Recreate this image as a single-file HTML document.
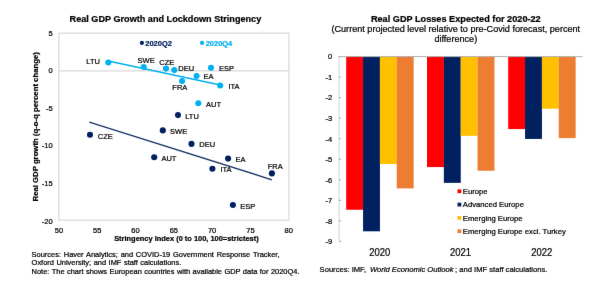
<!DOCTYPE html>
<html><head><meta charset="utf-8"><style>
html,body{margin:0;padding:0;background:#fff;width:600px;height:294px;overflow:hidden}
#w{width:600px;height:294px}
svg{display:block;font-family:"Liberation Sans", sans-serif}
</style></head><body>
<div id="w">
<svg width="600" height="294" viewBox="0 0 600 294">
<defs><filter id="bl" x="0" y="0" width="1" height="1" color-interpolation-filters="sRGB"><feConvolveMatrix order="3" kernelMatrix="0.00276 0.04704 0.00276 0.04704 0.80077 0.04704 0.00276 0.04704 0.00276" edgeMode="duplicate"/></filter></defs>
<g filter="url(#bl)" stroke-width="0.22">
<rect width="600" height="294" fill="#fff"/>
<text transform="matrix(1.0000 0 0 1 0.000 0)" x="165.40" y="21.56" font-size="9.120" font-weight="bold" fill="#000" stroke="#000" text-anchor="middle">Real GDP Growth and Lockdown Stringency</text>
<rect x="58.8" y="33.2" width="230.1" height="187.0" fill="none" stroke="#dedede" stroke-width="1.4"/>
<line x1="58.8" y1="70.8" x2="288.9" y2="70.8" stroke="#d9d9d9" stroke-width="1.3"/>
<text transform="matrix(1.0000 0 0 1 0.000 0)" x="52.60" y="35.69" font-size="7.500" font-weight="normal" fill="#000" stroke="#000" text-anchor="end">5</text>
<text transform="matrix(1.0000 0 0 1 0.000 0)" x="52.60" y="73.27" font-size="7.500" font-weight="normal" fill="#000" stroke="#000" text-anchor="end">0</text>
<text transform="matrix(1.0000 0 0 1 0.000 0)" x="52.60" y="110.84" font-size="7.500" font-weight="normal" fill="#000" stroke="#000" text-anchor="end">-5</text>
<text transform="matrix(1.0000 0 0 1 0.000 0)" x="52.60" y="148.43" font-size="7.500" font-weight="normal" fill="#000" stroke="#000" text-anchor="end">-10</text>
<text transform="matrix(1.0000 0 0 1 0.000 0)" x="52.60" y="186.00" font-size="7.500" font-weight="normal" fill="#000" stroke="#000" text-anchor="end">-15</text>
<text transform="matrix(1.0000 0 0 1 0.000 0)" x="52.60" y="223.58" font-size="7.500" font-weight="normal" fill="#000" stroke="#000" text-anchor="end">-20</text>
<text transform="matrix(1.0000 0 0 1 0.000 0)" x="58.90" y="232.59" font-size="7.500" font-weight="normal" fill="#000" stroke="#000" text-anchor="middle">50</text>
<text transform="matrix(1.0000 0 0 1 0.000 0)" x="97.20" y="232.59" font-size="7.500" font-weight="normal" fill="#000" stroke="#000" text-anchor="middle">55</text>
<text transform="matrix(1.0000 0 0 1 0.000 0)" x="135.50" y="232.59" font-size="7.500" font-weight="normal" fill="#000" stroke="#000" text-anchor="middle">60</text>
<text transform="matrix(1.0000 0 0 1 0.000 0)" x="173.80" y="232.59" font-size="7.500" font-weight="normal" fill="#000" stroke="#000" text-anchor="middle">65</text>
<text transform="matrix(1.0000 0 0 1 0.000 0)" x="212.10" y="232.59" font-size="7.500" font-weight="normal" fill="#000" stroke="#000" text-anchor="middle">70</text>
<text transform="matrix(1.0000 0 0 1 0.000 0)" x="250.40" y="232.59" font-size="7.500" font-weight="normal" fill="#000" stroke="#000" text-anchor="middle">75</text>
<text transform="matrix(1.0000 0 0 1 0.000 0)" x="288.70" y="232.59" font-size="7.500" font-weight="normal" fill="#000" stroke="#000" text-anchor="middle">80</text>
<text transform="translate(38.3,126.8) rotate(-90)" x="0" y="0" font-size="7.75" font-weight="bold" stroke="#000" text-anchor="middle">Real GDP growth (q-o-q percent change)</text>
<text transform="matrix(1.0000 0 0 1 0.000 0)" x="186.40" y="240.96" font-size="7.440" font-weight="bold" fill="#000" stroke="#000" text-anchor="middle">Stringency Index (0 to 100, 100=strictest)</text>
<circle cx="141.9" cy="42.9" r="2.1" fill="#002060"/>
<text transform="matrix(1.0000 0 0 1 0.000 0)" x="145.30" y="45.68" font-size="7.480" font-weight="bold" fill="#002060" stroke="#002060" text-anchor="start">2020Q2</text>
<circle cx="202.1" cy="42.9" r="2.1" fill="#00b0f0"/>
<text transform="matrix(1.0000 0 0 1 0.000 0)" x="205.70" y="45.68" font-size="7.480" font-weight="bold" fill="#00b0f0" stroke="#00b0f0" text-anchor="start">2020Q4</text>
<line x1="108.3" y1="60.9" x2="220.2" y2="84.9" stroke="#00b0f0" stroke-width="1.5"/>
<line x1="89.3" y1="122.1" x2="271.9" y2="179.8" stroke="#1c3668" stroke-width="1.4"/>
<circle cx="108.3" cy="62.5" r="3.05" fill="#00b0f0"/>
<text transform="matrix(1.0000 0 0 1 0.000 0)" x="86.30" y="64.28" font-size="7.500" font-weight="normal" fill="#000" stroke="#000" text-anchor="start">LTU</text>
<circle cx="143.7" cy="67" r="3.05" fill="#00b0f0"/>
<text transform="matrix(1.0000 0 0 1 0.000 0)" x="137.60" y="63.29" font-size="7.500" font-weight="normal" fill="#000" stroke="#000" text-anchor="start">SWE</text>
<circle cx="166" cy="68.6" r="3.05" fill="#00b0f0"/>
<text transform="matrix(1.0000 0 0 1 0.000 0)" x="159.30" y="65.08" font-size="7.500" font-weight="normal" fill="#000" stroke="#000" text-anchor="start">CZE</text>
<circle cx="174.3" cy="70.1" r="3.05" fill="#00b0f0"/>
<text transform="matrix(1.0000 0 0 1 0.000 0)" x="178.30" y="71.09" font-size="7.500" font-weight="normal" fill="#000" stroke="#000" text-anchor="start">DEU</text>
<circle cx="211" cy="67.7" r="3.05" fill="#00b0f0"/>
<text transform="matrix(1.0000 0 0 1 0.000 0)" x="218.90" y="71.09" font-size="7.500" font-weight="normal" fill="#000" stroke="#000" text-anchor="start">ESP</text>
<circle cx="196.6" cy="76.0" r="3.05" fill="#00b0f0"/>
<text transform="matrix(1.0000 0 0 1 0.000 0)" x="203.50" y="79.49" font-size="7.500" font-weight="normal" fill="#000" stroke="#000" text-anchor="start">EA</text>
<circle cx="182.1" cy="81.0" r="3.05" fill="#00b0f0"/>
<text transform="matrix(1.0000 0 0 1 0.000 0)" x="172.30" y="90.19" font-size="7.500" font-weight="normal" fill="#000" stroke="#000" text-anchor="start">FRA</text>
<circle cx="220.2" cy="85.5" r="3.05" fill="#00b0f0"/>
<text transform="matrix(1.0000 0 0 1 0.000 0)" x="228.40" y="88.99" font-size="7.500" font-weight="normal" fill="#000" stroke="#000" text-anchor="start">ITA</text>
<circle cx="198.3" cy="103.2" r="3.05" fill="#00b0f0"/>
<text transform="matrix(1.0000 0 0 1 0.000 0)" x="206.00" y="106.99" font-size="7.500" font-weight="normal" fill="#000" stroke="#000" text-anchor="start">AUT</text>
<circle cx="178.0" cy="115.1" r="3.05" fill="#002060"/>
<text transform="matrix(1.0000 0 0 1 0.000 0)" x="185.25" y="118.84" font-size="7.500" font-weight="normal" fill="#000" stroke="#000" text-anchor="start">LTU</text>
<circle cx="162.8" cy="130.4" r="3.05" fill="#002060"/>
<text transform="matrix(1.0000 0 0 1 0.000 0)" x="170.05" y="133.94" font-size="7.500" font-weight="normal" fill="#000" stroke="#000" text-anchor="start">SWE</text>
<circle cx="90" cy="134.8" r="3.05" fill="#002060"/>
<text transform="matrix(1.0000 0 0 1 0.000 0)" x="97.75" y="138.63" font-size="7.500" font-weight="normal" fill="#000" stroke="#000" text-anchor="start">CZE</text>
<circle cx="191.5" cy="143.9" r="3.05" fill="#002060"/>
<text transform="matrix(1.0000 0 0 1 0.000 0)" x="199.25" y="146.83" font-size="7.500" font-weight="normal" fill="#000" stroke="#000" text-anchor="start">DEU</text>
<circle cx="154.2" cy="157.2" r="3.05" fill="#002060"/>
<text transform="matrix(1.0000 0 0 1 0.000 0)" x="161.45" y="160.83" font-size="7.500" font-weight="normal" fill="#000" stroke="#000" text-anchor="start">AUT</text>
<circle cx="228.1" cy="158.6" r="3.05" fill="#002060"/>
<text transform="matrix(1.0000 0 0 1 0.000 0)" x="235.45" y="162.44" font-size="7.500" font-weight="normal" fill="#000" stroke="#000" text-anchor="start">EA</text>
<circle cx="212.4" cy="168.8" r="3.05" fill="#002060"/>
<text transform="matrix(1.0000 0 0 1 0.000 0)" x="220.45" y="172.44" font-size="7.500" font-weight="normal" fill="#000" stroke="#000" text-anchor="start">ITA</text>
<circle cx="271.9" cy="173.4" r="3.05" fill="#002060"/>
<text transform="matrix(1.0000 0 0 1 0.000 0)" x="267.65" y="169.23" font-size="7.500" font-weight="normal" fill="#000" stroke="#000" text-anchor="start">FRA</text>
<circle cx="232.9" cy="205" r="3.05" fill="#002060"/>
<text transform="matrix(1.0000 0 0 1 0.000 0)" x="240.25" y="208.83" font-size="7.500" font-weight="normal" fill="#000" stroke="#000" text-anchor="start">ESP</text>
<text word-spacing="0.75" transform="matrix(1.0000 0 0 1 0.000 0)" x="31.60" y="256.77" font-size="7.450" font-weight="normal" fill="#000" stroke="#000" text-anchor="start">Sources: Haver Analytics; and COVID-19 Government Response Tracker,</text>
<text word-spacing="0.45" transform="matrix(1.0000 0 0 1 0.000 0)" x="31.60" y="265.17" font-size="7.450" font-weight="normal" fill="#000" stroke="#000" text-anchor="start">Oxford University; and IMF staff calculations.</text>
<text word-spacing="0.4" transform="matrix(1.0000 0 0 1 0.000 0)" x="31.60" y="273.77" font-size="7.450" font-weight="normal" fill="#000" stroke="#000" text-anchor="start">Note: The chart shows European countries with available GDP data for 2020Q4.</text>
<text transform="matrix(1.0000 0 0 1 0.000 0)" x="455.80" y="21.73" font-size="9.170" font-weight="bold" fill="#000" stroke="#000" text-anchor="middle">Real GDP Losses Expected for 2020-22</text>
<text transform="matrix(1.0000 0 0 1 0.000 0)" x="455.80" y="32.26" font-size="9.110" font-weight="normal" fill="#000" stroke="#000" text-anchor="middle">(Current projected level relative to pre-Covid forecast, percent</text>
<text transform="matrix(1.0000 0 0 1 0.000 0)" x="455.80" y="42.06" font-size="9.110" font-weight="normal" fill="#000" stroke="#000" text-anchor="middle">difference)</text>
<rect x="346.20" y="56.6" width="16.90" height="153.15" fill="#ff0000"/>
<rect x="363.05" y="56.6" width="16.90" height="174.71" fill="#002060"/>
<rect x="379.90" y="56.6" width="16.90" height="107.37" fill="#ffc000"/>
<rect x="396.75" y="56.6" width="16.90" height="131.80" fill="#ed7d31"/>
<rect x="427.00" y="56.6" width="16.90" height="110.45" fill="#ff0000"/>
<rect x="443.85" y="56.6" width="16.90" height="126.26" fill="#002060"/>
<rect x="460.70" y="56.6" width="16.90" height="79.25" fill="#ffc000"/>
<rect x="477.55" y="56.6" width="16.90" height="114.15" fill="#ed7d31"/>
<rect x="508.20" y="56.6" width="16.90" height="72.47" fill="#ff0000"/>
<rect x="525.05" y="56.6" width="16.90" height="82.33" fill="#002060"/>
<rect x="541.90" y="56.6" width="16.90" height="52.15" fill="#ffc000"/>
<rect x="558.75" y="56.6" width="16.90" height="81.50" fill="#ed7d31"/>
<line x1="339.0" y1="56.6" x2="339.0" y2="241.4" stroke="#d9d9d9" stroke-width="1.2"/>
<line x1="339.0" y1="56.60" x2="341.3" y2="56.60" stroke="#a0a0a0" stroke-width="0.9"/>
<text transform="matrix(1.0000 0 0 1 0.000 0)" x="332.20" y="59.39" font-size="7.500" font-weight="normal" fill="#000" stroke="#000" text-anchor="end">0</text>
<line x1="339.0" y1="77.13" x2="341.3" y2="77.13" stroke="#a0a0a0" stroke-width="0.9"/>
<text transform="matrix(1.0000 0 0 1 0.000 0)" x="332.20" y="79.91" font-size="7.500" font-weight="normal" fill="#000" stroke="#000" text-anchor="end">-1</text>
<line x1="339.0" y1="97.66" x2="341.3" y2="97.66" stroke="#a0a0a0" stroke-width="0.9"/>
<text transform="matrix(1.0000 0 0 1 0.000 0)" x="332.20" y="100.44" font-size="7.500" font-weight="normal" fill="#000" stroke="#000" text-anchor="end">-2</text>
<line x1="339.0" y1="118.19" x2="341.3" y2="118.19" stroke="#a0a0a0" stroke-width="0.9"/>
<text transform="matrix(1.0000 0 0 1 0.000 0)" x="332.20" y="120.97" font-size="7.500" font-weight="normal" fill="#000" stroke="#000" text-anchor="end">-3</text>
<line x1="339.0" y1="138.72" x2="341.3" y2="138.72" stroke="#a0a0a0" stroke-width="0.9"/>
<text transform="matrix(1.0000 0 0 1 0.000 0)" x="332.20" y="141.50" font-size="7.500" font-weight="normal" fill="#000" stroke="#000" text-anchor="end">-4</text>
<line x1="339.0" y1="159.25" x2="341.3" y2="159.25" stroke="#a0a0a0" stroke-width="0.9"/>
<text transform="matrix(1.0000 0 0 1 0.000 0)" x="332.20" y="162.03" font-size="7.500" font-weight="normal" fill="#000" stroke="#000" text-anchor="end">-5</text>
<line x1="339.0" y1="179.78" x2="341.3" y2="179.78" stroke="#a0a0a0" stroke-width="0.9"/>
<text transform="matrix(1.0000 0 0 1 0.000 0)" x="332.20" y="182.56" font-size="7.500" font-weight="normal" fill="#000" stroke="#000" text-anchor="end">-6</text>
<line x1="339.0" y1="200.31" x2="341.3" y2="200.31" stroke="#a0a0a0" stroke-width="0.9"/>
<text transform="matrix(1.0000 0 0 1 0.000 0)" x="332.20" y="203.09" font-size="7.500" font-weight="normal" fill="#000" stroke="#000" text-anchor="end">-7</text>
<line x1="339.0" y1="220.84" x2="341.3" y2="220.84" stroke="#a0a0a0" stroke-width="0.9"/>
<text transform="matrix(1.0000 0 0 1 0.000 0)" x="332.20" y="223.62" font-size="7.500" font-weight="normal" fill="#000" stroke="#000" text-anchor="end">-8</text>
<line x1="339.0" y1="241.37" x2="341.3" y2="241.37" stroke="#a0a0a0" stroke-width="0.9"/>
<text transform="matrix(1.0000 0 0 1 0.000 0)" x="332.20" y="244.16" font-size="7.500" font-weight="normal" fill="#000" stroke="#000" text-anchor="end">-9</text>
<line x1="338.5" y1="56.6" x2="582.5" y2="56.6" stroke="#b0b0b0" stroke-width="1.0"/>
<text transform="matrix(0.9091 0 0 1 34.518 0)" x="379.70" y="256.24" font-size="10.450" font-weight="normal" fill="#000" stroke="#000" text-anchor="middle">2020</text>
<text transform="matrix(0.9091 0 0 1 41.864 0)" x="460.50" y="256.24" font-size="10.450" font-weight="normal" fill="#000" stroke="#000" text-anchor="middle">2021</text>
<text transform="matrix(0.9091 0 0 1 49.245 0)" x="541.70" y="256.24" font-size="10.450" font-weight="normal" fill="#000" stroke="#000" text-anchor="middle">2022</text>
<rect x="457.5" y="189.35" width="3.8" height="3.8" fill="#ff0000"/>
<text transform="matrix(1.0000 0 0 1 0.000 0)" x="462.80" y="194.01" font-size="7.700" font-weight="normal" fill="#000" stroke="#000" text-anchor="start">Europe</text>
<rect x="457.5" y="202.68" width="3.8" height="3.8" fill="#002060"/>
<text transform="matrix(1.0000 0 0 1 0.000 0)" x="462.80" y="207.34" font-size="7.700" font-weight="normal" fill="#000" stroke="#000" text-anchor="start">Advanced Europe</text>
<rect x="457.5" y="216.01" width="3.8" height="3.8" fill="#ffc000"/>
<text transform="matrix(1.0000 0 0 1 0.000 0)" x="462.80" y="220.67" font-size="7.700" font-weight="normal" fill="#000" stroke="#000" text-anchor="start">Emerging Europe</text>
<rect x="457.5" y="229.34" width="3.8" height="3.8" fill="#ed7d31"/>
<text transform="matrix(1.0000 0 0 1 0.000 0)" x="462.80" y="234.00" font-size="7.700" font-weight="normal" fill="#000" stroke="#000" text-anchor="start">Emerging Europe excl. Turkey</text>
<text x="319.6" y="271.70" font-size="7.6" stroke="#000">Sources: IMF, <tspan dx="1.8" font-style="italic">World Economic Outlook</tspan><tspan dx="1.6">; and IMF staff calculations.</tspan></text>
</g>
</svg>
</div>
</body></html>
